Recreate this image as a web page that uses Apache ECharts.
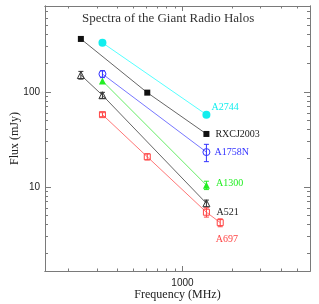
<!DOCTYPE html>
<html><head><meta charset="utf-8">
<script src="https://cdn.jsdelivr.net/npm/echarts@6/dist/echarts.min.js"></script>
<style>html,body{margin:0;padding:0;background:#fff}#c{width:319px;height:304px}</style>
</head><body><div id="c"></div>
<script>
// ---- data ----
const rxcjFreq = [240, 610, 1400];
const rxcjFlux = [360, 98, 36];
const a2744Freq = [325, 1400];
const a2744Flux = [328, 57.5];
const a1758Freq = [325, 1400];
const a1758Flux = [154, 23.2];
const a1758Err = [13, 4.8];
const a1300Freq = [325, 1400];
const a1300Flux = [130, 10.4];
const a1300Err = [0, 1.05];
const a521Freq = [240, 325, 1400];
const a521Flux = [150, 92, 6.7];
const a521Err = [14, 6.7, 0.55];
const a697Freq = [325, 610, 1400, 1700];
const a697Flux = [57.5, 20.7, 5.4, 4.2];
const a697Err = [2.8, 1.5, 0.6, 0.4];
const xMajor = [1000];
const xMinor = [200, 300, 400, 500, 600, 700, 800, 900, 2000, 3000, 4000, 5000, 6000];
const yMajor = [10, 100];
const yMinor = [2,3,4,5,6,7,8,9,20,30,40,50,60,70,80,90,200,300,400,500,600,700,800];
const titleText = 'Spectra of the Giant Radio Halos';

const serif = 'Liberation Serif';
const axisColor = '#7a7a7a';
const X_MIN = 145, X_MAX = 6000, Y_MIN = 1.3, Y_MAX = 800;

function pts(f, v) { return f.map((x, i) => [x, v[i]]); }
function errs(f, v, e) { return f.map((x, i) => [x, v[i] - e[i], v[i] + e[i]]).filter((d, i) => e[i] > 0); }

function xAx(pos, ticks, len, labels) {
  return {
    type: 'log', logBase: 10, min: X_MIN, max: X_MAX, position: pos,
    axisLine: { show: true, lineStyle: { color: axisColor, width: 1 } },
    axisTick: { show: true, inside: true, length: len, customValues: ticks, lineStyle: { color: axisColor } },
    axisLabel: labels ? { show: true, customValues: xMajor, formatter: v => String(Math.round(v)), color: '#222', fontSize: 10, fontFamily: 'Liberation Sans', margin: 7 } : { show: false },
    splitLine: { show: false }
  };
}
function yAx(pos, ticks, len, labels) {
  return {
    type: 'log', logBase: 10, min: Y_MIN, max: Y_MAX, position: pos,
    axisLine: { show: true, lineStyle: { color: axisColor, width: 1 } },
    axisTick: { show: true, inside: true, length: len, customValues: ticks, lineStyle: { color: axisColor } },
    axisLabel: labels ? { show: true, customValues: yMajor, formatter: v => String(Math.round(v)), color: '#222', fontSize: 10, fontFamily: 'Liberation Sans', margin: 5 } : { show: false },
    splitLine: { show: false }
  };
}

const xAxes = [xAx('bottom', xMajor, 5, true), xAx('bottom', xMinor, 2.5, false), xAx('top', xMajor, 5, false), xAx('top', xMinor, 2.5, false)];
xAxes[0].name = 'Frequency (MHz)';
xAxes[0].nameLocation = 'middle';
xAxes[0].nameGap = 18;
xAxes[0].nameMoveOverlap = false;
xAxes[0].nameTextStyle = { fontFamily: serif, fontSize: 12, color: '#222' };
const yAxes = [yAx('left', yMajor, 6, true), yAx('left', yMinor, 3, false), yAx('right', yMajor, 6, false), yAx('right', yMinor, 3, false)];
yAxes[0].name = 'Flux (mJy)';
yAxes[0].nameLocation = 'middle';
yAxes[0].nameGap = 24;
yAxes[0].nameMoveOverlap = false;
yAxes[0].nameTextStyle = { fontFamily: serif, fontSize: 12, color: '#222' };

function lineSeries(name, data, color, lineColor, symbol, size, filled) {
  return {
    type: 'line', name, data, xAxisIndex: 0, yAxisIndex: 0,
    symbol, symbolSize: size, showAllSymbol: true,
    lineStyle: { color: lineColor, width: 1 },
    itemStyle: filled ? { color: color, borderColor: color, borderWidth: 0 } : { color: 'rgba(255,255,255,0)', borderColor: color, borderWidth: 1 },
    emphasis: { disabled: true }, animation: false, z: 3,
    label: { show: false }
  };
}
function labelPoint(seriesDef, idx, text, color, offset) {
  seriesDef.data = seriesDef.data.map((d, i) => i === idx ? {
    value: d,
    label: { show: true, formatter: text, position: 'right', distance: 1, offset, color, fontFamily: serif, fontSize: 10 }
  } : d);
  return seriesDef;
}
function errSeries(data, color) {
  return {
    type: 'custom', data, xAxisIndex: 0, yAxisIndex: 0, z: 4, animation: false, silent: true,
    renderItem(params, api) {
      const x = api.value(0), lo = api.value(1), hi = api.value(2);
      const a = api.coord([x, lo]), b = api.coord([x, hi]);
      const w = 2.5;
      const st = { stroke: color, lineWidth: 1 };
      return { type: 'group', children: [
        { type: 'line', shape: { x1: a[0], y1: a[1], x2: b[0], y2: b[1] }, style: st },
        { type: 'line', shape: { x1: a[0] - w, y1: a[1], x2: a[0] + w, y2: a[1] }, style: st },
        { type: 'line', shape: { x1: b[0] - w, y1: b[1], x2: b[0] + w, y2: b[1] }, style: st }
      ]};
    }
  };
}

const cBlack = '#111', cCyan = '#11eeee', cBlue = '#3333ff', cGreen = '#22ee22', cRed = '#ff4444';
const series = [
  labelPoint(lineSeries('A2744', pts(a2744Freq, a2744Flux), cCyan, '#55ffff', 'circle', 8, true), 1, 'A2744', cCyan, [0, -7]),
  labelPoint(lineSeries('RXCJ2003', pts(rxcjFreq, rxcjFlux), cBlack, '#666', 'rect', 6, true), 2, 'RXCJ2003', '#222', [5, 0]),
  labelPoint(lineSeries('A1758N', pts(a1758Freq, a1758Flux), cBlue, '#7777ff', 'circle', 7, false), 1, 'A1758N', cBlue, [3, 0]),
  labelPoint(lineSeries('A1300', pts(a1300Freq, a1300Flux), cGreen, '#66ee66', 'triangle', 7, true), 1, 'A1300', cGreen, [5, -2]),
  labelPoint(lineSeries('A521', pts(a521Freq, a521Flux), '#333', '#666', 'triangle', 7, false), 2, 'A521', '#222', [5, 9]),
  labelPoint(lineSeries('A697', pts(a697Freq, a697Flux), cRed, '#ff7777', 'rect', 6, false), 3, 'A697', cRed, [-9, 17]),
  errSeries(errs(a1758Freq, a1758Flux, a1758Err), cBlue),
  errSeries(errs(a1300Freq, a1300Flux, a1300Err), cGreen),
  errSeries(errs(a521Freq, a521Flux, a521Err), '#333'),
  errSeries(errs(a697Freq, a697Flux, a697Err), cRed)
];

const chart = echarts.init(document.getElementById('c'), null, { renderer: 'canvas' });
chart.setOption({
  animation: false,
  backgroundColor: '#fff',
  title: { text: titleText, left: 77, top: 7, textStyle: { fontFamily: serif, fontSize: 13, fontWeight: 'normal', color: '#333' } },
  grid: { left: 45, right: 9, top: 6, bottom: 33, containLabel: false, outerBoundsMode: 'none' },
  xAxis: xAxes,
  yAxis: yAxes,
  series
});
</script></body></html>
